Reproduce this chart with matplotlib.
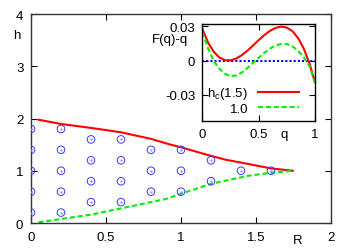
import matplotlib
matplotlib.use("Agg")
import matplotlib.pyplot as plt

plt.rcParams['font.family'] = ['Liberation Sans', 'DejaVu Sans']
plt.rcParams['mathtext.default'] = 'regular'

# Main panel: boundary curves h(R)
R_upper = [0.05, 0.2, 0.4, 0.6, 0.8, 0.93, 1.0, 1.18, 1.3, 1.45, 1.6, 1.745]
h_upper = [1.977, 1.895, 1.82, 1.736, 1.61, 1.50, 1.45, 1.30, 1.21, 1.129, 1.045, 1.0]
R_lower = [0.05, 0.2, 0.4, 0.6, 0.8, 0.9, 1.0, 1.2, 1.45, 1.6, 1.745]
h_lower = [0.013, 0.077, 0.16, 0.28, 0.40, 0.46, 0.56, 0.75, 0.905, 0.96, 1.0]

# Sample points (circles)
pts_R = [0, 0, 0, 0, 0,
         0.2, 0.2, 0.2, 0.2, 0.2,
         0.4, 0.4, 0.4, 0.4,
         0.6, 0.6, 0.6, 0.6,
         0.8, 0.8, 0.8,
         1.0, 1.0, 1.0,
         1.2, 1.2,
         1.4,
         1.6]
pts_h = [0.2, 0.6, 1.0, 1.4, 1.8,
         0.2, 0.6, 1.0, 1.4, 1.8,
         0.4, 0.8, 1.2, 1.6,
         0.4, 0.8, 1.2, 1.6,
         0.6, 1.0, 1.4,
         0.6, 1.0, 1.4,
         0.8, 1.2,
         1.0,
         1.0]

# Inset: F(q)-q
q = [0.0, 0.05, 0.1, 0.15, 0.2, 0.25, 0.3, 0.35, 0.4, 0.45, 0.5,
     0.55, 0.6, 0.65, 0.7, 0.75, 0.8, 0.85, 0.9, 0.95, 1.0]
F_hc = [0.0277, 0.0160, 0.0079, 0.0028, 0.0004, 0.0002, 0.0018, 0.0047, 0.0087, 0.0132, 0.0179,
        0.0223, 0.0260, 0.0286, 0.0297, 0.0289, 0.0257, 0.0197, 0.0106, -0.0022, -0.0189]
F_10 = [0.0248, 0.0110, 0.0000, -0.0070, -0.0115, -0.0135, -0.0130, -0.0105, -0.0065, -0.0020, 0.0025,
        0.0068, 0.0105, 0.0132, 0.0146, 0.0145, 0.0125, 0.0085, 0.0030, -0.0045, -0.0195]
legend_labels = ['h$_c$(1.5)', '1.0']

FS = 9.5
GREEN_DASH = (2.4, 1.4)

fig = plt.figure(figsize=(3.54, 2.53), dpi=100)
ax = fig.add_axes([0.0876, 0.1146, 0.935 - 0.0876, 0.9407 - 0.1146])
ax.plot(R_upper, h_upper, color='#ff0000', lw=1.5)
ax.plot(R_lower, h_lower, color='#00ee00', lw=1.5, dashes=GREEN_DASH)
ax.scatter(pts_R, pts_h, s=30, facecolors='none', edgecolors='#3a3aff', linewidths=0.7, zorder=3)
ax.scatter(pts_R, pts_h, s=0.3, color='#8080ff', zorder=3)
ax.set_xlim(0, 2)
ax.set_ylim(0, 4)
ax.set_xticks([0, 0.5, 1, 1.5, 2])
ax.set_xticklabels(['0', '0.5', '1', '1.5', '2'])
ax.set_yticks([0, 1, 2, 3, 4])
ax.tick_params(direction='in', top=True, right=True, length=4, width=0.8,
               labelsize=FS, pad=5.5)
for s in ax.spines.values():
    s.set_linewidth(1.0)
    s.set_color('#333333')
ax.text(-0.07, 3.6, 'h', ha='right', va='center', fontsize=FS)
ax.text(1.775, -0.33, 'R', ha='center', va='center', fontsize=FS)

ins = fig.add_axes([0.5715, 0.519, 0.3183, 0.3822])
ins.axhline(0, color='#0000ff', lw=1.5, linestyle=(0, (1, 1)))
ins.plot(q, F_hc, color='#ff0000', lw=1.5, label=legend_labels[0])
ins.plot(q, F_10, color='#00ee00', lw=1.5, dashes=GREEN_DASH, label=legend_labels[1])
ins.set_xlim(0, 1)
ins.set_ylim(-0.0525, 0.032)
ins.set_xticks([0, 0.5, 1])
ins.set_xticklabels(['0', '0.5', '1'])
ins.set_yticks([-0.03, 0, 0.03])
ins.set_yticklabels(['-0.03', '0', '0.03'])
ins.tick_params(direction='in', top=True, right=True, length=4, width=0.8,
                labelsize=FS, pad=5)
for s in ins.spines.values():
    s.set_linewidth(1.0)
    s.set_color('black')
ins.text(0.73, -0.14, 'q', transform=ins.transAxes, ha='center', va='center', fontsize=FS)
ins.text(-0.13, 0.845, 'F(q)-q', transform=ins.transAxes, ha='right', va='center', fontsize=FS)
ins.legend(loc='lower right', bbox_to_anchor=(0.858, 0.06), borderaxespad=0, borderpad=0,
           markerfirst=False, frameon=False, fontsize=FS, handlelength=3.1,
           handletextpad=0.75, labelspacing=0.1)

fig.savefig('out.png', dpi=100)
